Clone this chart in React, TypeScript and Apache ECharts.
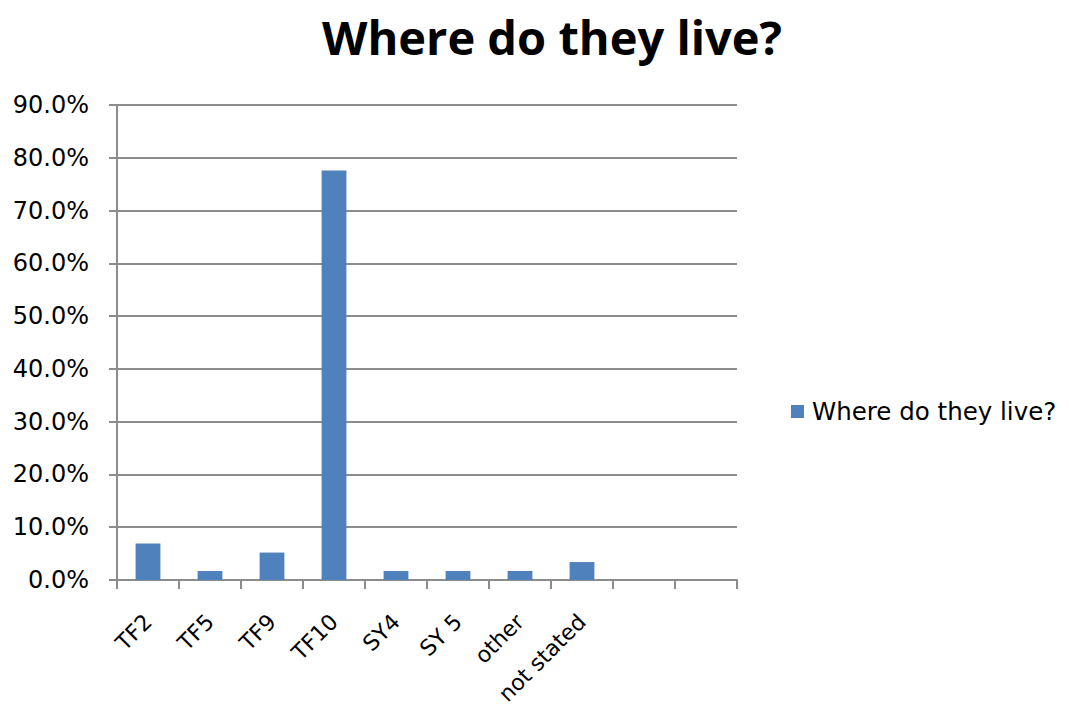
import React, { useEffect, useRef } from "react";
import * as echarts from "echarts";

// Area of residence, share of respondents (%)
const categories = ["TF2", "TF5", "TF9", "TF10", "SY4", "SY 5", "other", "not stated", "", ""];
const shares: (number | null)[] = [6.9, 1.7, 5.2, 77.6, 1.7, 1.7, 1.7, 3.4, null, null];
const yTicks = { min: 0, max: 90, step: 10 };
const seriesName = "Where do they live?";
const chartTitle = "Where do they live?";

const FONT = "'DejaVu Sans', sans-serif";
const TITLE_FONT = "'Open Sans', 'DejaVu Sans', sans-serif";
const GRID_GRAY = "#8c8c8c";
const BAR_BLUE = "#4f81bd";

export default function App() {
  const ref = useRef<HTMLDivElement>(null);

  useEffect(() => {
    if (!ref.current) return;
    const chart = echarts.init(ref.current, null, { renderer: "svg" });
    chart.setOption({
      animation: false,
      backgroundColor: "#ffffff",
      graphic: [
        {
          type: "text",
          x: 552,
          y: 37,
          style: {
            text: chartTitle,
            fontFamily: TITLE_FONT,
            fontWeight: "bold",
            fontSize: 47,
            fill: "#000000",
            textAlign: "center",
            textVerticalAlign: "middle",
          },
        },
      ],
      legend: {
        left: 786,
        top: 394,
        orient: "vertical",
        icon: "rect",
        itemWidth: 13,
        itemHeight: 13,
        itemGap: 10,
        textStyle: { fontFamily: FONT, fontSize: 24.5, color: "#000000", padding: [0, 0, 0, 3] },
        data: [seriesName],
      },
      grid: { left: 117, right: 332, top: 105, bottom: 133, containLabel: false },
      xAxis: {
        type: "category",
        data: categories,
        boundaryGap: true,
        axisLine: { lineStyle: { color: GRID_GRAY, width: 2 } },
        axisTick: { show: true, length: 9, alignWithLabel: false, lineStyle: { color: GRID_GRAY, width: 2 } },
        axisLabel: {
          rotate: 45,
          interval: 0,
          margin: 38,
          fontFamily: FONT,
          fontSize: 22,
          color: "#000000",
        },
      },
      yAxis: {
        type: "value",
        min: yTicks.min,
        max: yTicks.max,
        interval: yTicks.step,
        axisLine: { show: true, lineStyle: { color: GRID_GRAY, width: 2 } },
        axisTick: { show: true, length: 8, lineStyle: { color: GRID_GRAY, width: 2 } },
        splitLine: { show: true, lineStyle: { color: GRID_GRAY, width: 2 } },
        axisLabel: {
          margin: 28,
          fontFamily: FONT,
          fontSize: 24,
          color: "#000000",
          formatter: (v: number) => v.toFixed(1) + "%",
        },
      },
      series: [
        {
          name: seriesName,
          type: "bar",
          data: shares,
          barCategoryGap: "60%",
          itemStyle: { color: BAR_BLUE },
        },
      ],
    });
    return () => chart.dispose();
  }, []);

  return <div ref={ref} style={{ width: 1069, height: 713, position: "absolute", left: 0, top: 0 }} />;
}
